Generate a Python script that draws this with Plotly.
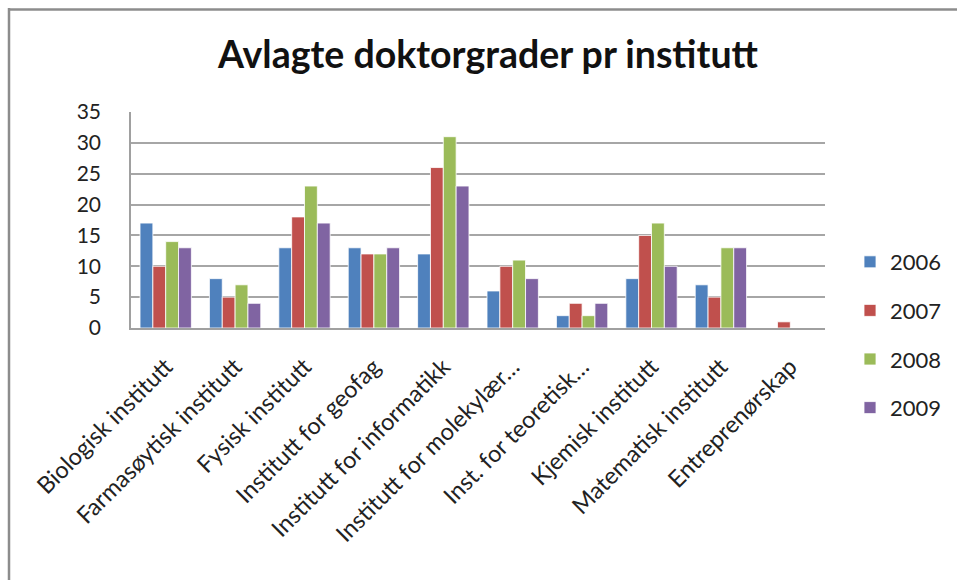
import plotly.graph_objects as go

categories = ["Biologisk institutt", "Farmasøytisk institutt", "Fysisk institutt",
              "Institutt for geofag", "Institutt for informatikk", "Institutt for molekylær…",
              "Inst. for teoretisk…", "Kjemisk institutt", "Matematisk institutt", "Entreprenørskap"]
years = ["2006", "2007", "2008", "2009"]
v2006 = [17, 8, 13, 13, 12, 6, 2, 8, 7, 0]
v2007 = [10, 5, 18, 12, 26, 10, 4, 15, 5, 1]
v2008 = [14, 7, 23, 12, 31, 11, 2, 17, 13, 0]
v2009 = [13, 4, 17, 13, 23, 8, 4, 10, 13, 0]
series = [v2006, v2007, v2008, v2009]
colors = ["#4F81BD", "#C0504D", "#9BBB59", "#8064A2"]
yticks = [0, 5, 10, 15, 20, 25, 30, 35]

W, H = 957, 580
L, T = 131, 112
pw, ph = 694, 216
R, B = W - L - pw, H - T - ph

def px_x(x):
    return (x - L) / pw

def px_y(y):
    return (T + ph - y) / ph

fig = go.Figure()
for name, vals, c in zip(years, series, colors):
    fig.add_trace(go.Bar(x=categories, y=vals, name=name, marker_color=c,
                         marker_line_color="white", marker_line_width=0.8,
                         legendgroup=name))

font = "Lato, Open Sans, sans-serif"
fig.update_layout(
    width=W, height=H,
    margin=dict(l=L, r=R, t=T, b=B, autoexpand=False),
    paper_bgcolor="white", plot_bgcolor="white",
    barmode="group", bargap=0.26, bargroupgap=0,
    font=dict(family=font, color="#222222"),
    title=dict(text="<b>Avlagte doktorgrader pr institutt</b>", x=488 / W, xanchor="center",
               y=1 - 55 / H, yanchor="middle", font=dict(size=37.5, family=font, color="#111111")),
    legend=dict(x=px_x(850), xanchor="left", y=px_y(241), yanchor="top",
                font=dict(size=22, family=font, color="#222222"), tracegroupgap=17,
                itemwidth=30, bgcolor="rgba(0,0,0,0)"),
    xaxis=dict(showline=True, linecolor="#A0A0A0", linewidth=1.5, tickangle=-45,
               tickfont=dict(size=23.5, family=font, color="#222222"), ticks="",
               ticklabelstandoff=14),
    yaxis=dict(range=[0, 35], tickvals=yticks, showgrid=True, gridcolor="#A6A6A6",
               gridwidth=1.5, showline=True, linecolor="#A0A0A0", linewidth=1.5,
               tickfont=dict(size=21, family=font, color="#222222"), ticks="",
               ticklabelstandoff=24, zeroline=False),
    shapes=[
        dict(type="line", xref="paper", yref="paper", x0=px_x(9), x1=px_x(9),
             y0=px_y(8), y1=px_y(H + 20), line=dict(color="#8C8C8C", width=2.5)),
        dict(type="line", xref="paper", yref="paper", x0=px_x(8), x1=px_x(W + 20),
             y0=px_y(9.5), y1=px_y(9.5), line=dict(color="#8C8C8C", width=2.5)),
    ],
)
fig.write_html("out.html", config={"displayModeBar": False},
               post_script="document.body.style.margin='0';document.body.style.overflow='hidden';")
